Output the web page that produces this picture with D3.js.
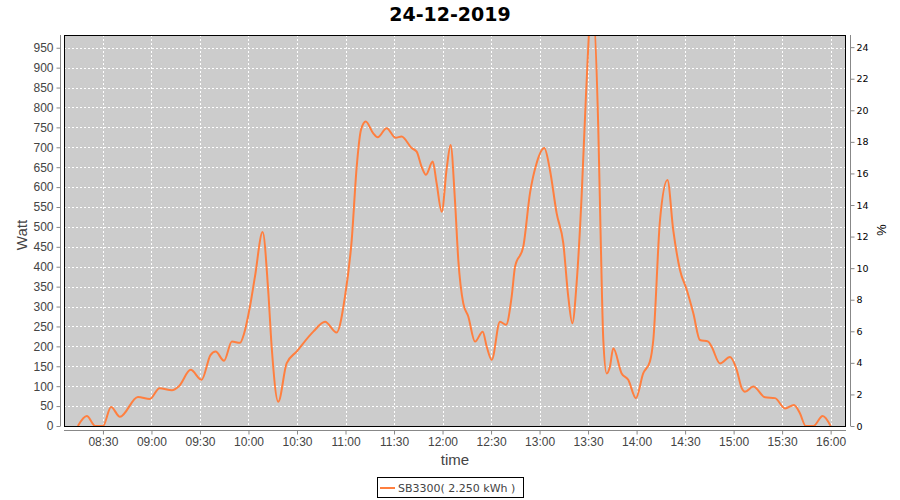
<!DOCTYPE html>
<html>
<head>
<meta charset="utf-8">
<script src="https://cdn.jsdelivr.net/npm/d3@7"></script>
<style>
  body { margin: 0; background: #ffffff; }
  svg { display: block; }
</style>
</head>
<body>
<svg id="chart" width="900" height="500"></svg>
<script>
// ---- data ----
const chartTitle = "24-12-2019";
const seriesName = "SB3300( 2.250 kWh )";
const times = [
  "08:14:30","08:20:00","08:25:15","08:30:00","08:35:00","08:40:30","08:51:40","08:59:00",
  "09:05:00","09:12:40","09:17:00","09:24:15","09:31:00","09:36:30","09:39:40","09:44:50",
  "09:49:45","09:54:45","09:57:20","10:00:55","10:04:00","10:08:45","10:12:10","10:14:20",
  "10:18:25","10:23:35","10:29:45","10:40:05","10:47:20","10:54:30","10:59:40","11:03:50",
  "11:06:55","11:09:35","11:12:30","11:17:10","11:19:55","11:25:25","11:31:00","11:34:40",
  "11:40:55","11:44:00","11:47:05","11:49:45","11:53:55","11:56:20","11:59:30","12:02:35",
  "12:05:00","12:07:40","12:09:45","12:12:50","12:15:55","12:20:05","12:24:50","12:27:20",
  "12:30:25","12:35:30","12:39:15","12:42:45","12:44:50","12:49:55","12:54:05","12:58:10",
  "13:02:55","13:06:25","13:10:35","13:14:40","13:17:45","13:20:15","13:22:55","13:26:00",
  "13:28:40","13:32:25","13:36:20","13:37:50","13:39:25","13:41:30","13:43:30","13:45:35",
  "13:50:45","13:54:50","13:59:35","14:04:05","14:08:15","14:10:20","14:14:30","14:19:05",
  "14:22:40","14:26:50","14:31:00","14:35:05","14:39:10","14:44:20","14:46:25","14:51:35",
  "14:57:45","15:01:55","15:05:00","15:07:00","15:12:10","15:19:25","15:25:35","15:31:50",
  "15:37:20","15:41:00","15:44:35","15:49:20","15:55:05","16:00:00"
];
const watts = [
  0,25,0,0,48,23,73,68,
  95,90,100,141,116,178,187,164,
  212,209,233,300,375,487,342,199,
  61,157,187,237,262,235,325,467,
  651,744,765,735,725,748,724,727,
  698,689,651,631,664,610,538,647,
  706,568,417,308,275,212,237,199,
  166,262,254,325,400,450,585,660,
  698,643,534,459,325,258,359,576,
  827,1070,744,467,216,132,149,195,
  132,116,70,132,162,216,518,618,
  492,392,342,283,216,212,199,157,
  173,141,95,86,99,72,70,44,
  53,32,0,0,25,0
];
const leftTicks = [0,50,100,150,200,250,300,350,400,450,500,550,600,650,700,750,800,850,900,950];
const rightTicks = [0,2,4,6,8,10,12,14,16,18,20,22,24];
const timeTicks = ["08:30","09:00","09:30","10:00","10:30","11:00","11:30","12:00","12:30","13:00","13:30","14:00","14:30","15:00","15:30","16:00"];
const timeStart = "08:05:55", timeEnd = "16:09:30";
const wattMax = 982, pctMax = 24.77;

// ---- setup ----
const day = "2019-12-24T";
const parseT = d3.timeParse("%Y-%m-%dT%H:%M:%S");
const parseTM = d3.timeParse("%Y-%m-%dT%H:%M");
const data = times.map((t, i) => ({ t: parseT(day + t), w: watts[i] }));

const L = 64, R = 846, T = 35, B = 426;
const svg = d3.select("#chart");
const x = d3.scaleTime().domain([parseT(day + timeStart), parseT(day + timeEnd)]).range([L, R]);
const y = d3.scaleLinear().domain([0, wattMax]).range([B, T]);
const y2 = d3.scaleLinear().domain([0, pctMax]).range([B, T]);

const tickFont = "'Liberation Sans', Arial, sans-serif";
const labelColor = "#444444";

// title
svg.append("text").attr("x", 450).attr("y", 21).attr("text-anchor", "middle")
  .attr("font-family", "'DejaVu Sans', sans-serif").attr("font-weight", "bold")
  .attr("font-size", 19).attr("fill", "#000").text(chartTitle);

// plot background
svg.append("rect").attr("x", L).attr("y", T).attr("width", R - L).attr("height", B - T)
  .attr("fill", "#cccccc");

// grid
const timeTickDates = timeTicks.map(s => parseTM(day + s));
svg.append("g").selectAll("line").data(timeTickDates).join("line")
  .attr("x1", d => Math.round(x(d)) + 0.5).attr("x2", d => Math.round(x(d)) + 0.5)
  .attr("y1", T).attr("y2", B)
  .attr("stroke", "#ffffff").attr("stroke-width", 1).attr("stroke-dasharray", "2,2");
svg.append("g").selectAll("line").data(leftTicks.filter(d => d > 0)).join("line")
  .attr("x1", L).attr("x2", R)
  .attr("y1", d => Math.round(y(d)) + 0.5).attr("y2", d => Math.round(y(d)) + 0.5)
  .attr("stroke", "#ffffff").attr("stroke-width", 1).attr("stroke-dasharray", "2,2");

// series line
svg.append("clipPath").attr("id", "clip").append("rect")
  .attr("x", L).attr("y", T).attr("width", R - L).attr("height", B - T);
const line = d3.line().x(d => x(d.t)).y(d => y(d.w)).curve(d3.curveMonotoneX);
svg.append("path").datum(data).attr("clip-path", "url(#clip)")
  .attr("d", line).attr("fill", "none").attr("stroke", "#ff7f3f").attr("stroke-width", 2);

// plot border
svg.append("rect").attr("x", L + 0.5).attr("y", T + 0.5).attr("width", R - L - 1).attr("height", B - T)
  .attr("fill", "none").attr("stroke", "#000").attr("stroke-width", 1);

// left axis
const gL = svg.append("g").attr("transform", `translate(60.5,0)`)
  .call(d3.axisLeft(y).tickValues(leftTicks).tickSize(4).tickPadding(3).tickSizeOuter(0));
gL.select(".domain").attr("stroke", "#888").attr("d", `M0,${T}V${B}`);
gL.selectAll(".tick line").attr("stroke", "#888");
gL.selectAll("text").attr("font-family", tickFont).attr("font-size", 12).attr("fill", labelColor);

// right axis
const gR = svg.append("g").attr("transform", `translate(850.5,0)`)
  .call(d3.axisRight(y2).tickValues(rightTicks).tickSize(4).tickPadding(2).tickSizeOuter(0));
gR.select(".domain").attr("stroke", "#888").attr("d", `M0,${T}V${B}`);
gR.selectAll(".tick line").attr("stroke", "#888");
gR.selectAll("text").attr("font-family", "'DejaVu Sans', sans-serif").attr("font-size", 9.5).attr("fill", "#000");

// bottom axis
const gB = svg.append("g").attr("transform", `translate(0,430.5)`)
  .call(d3.axisBottom(x).tickValues(timeTickDates).tickFormat(d3.timeFormat("%H:%M"))
    .tickSize(4).tickPadding(3).tickSizeOuter(0));
gB.select(".domain").attr("stroke", "#888").attr("d", `M${L},0H${R}`);
gB.selectAll(".tick line").attr("stroke", "#888");
gB.selectAll("text").attr("font-family", tickFont).attr("font-size", 12).attr("fill", labelColor);

// axis labels
svg.append("text").attr("transform", "translate(27,235) rotate(-90)").attr("text-anchor", "middle")
  .attr("font-family", tickFont).attr("font-size", 15).attr("fill", labelColor).text("Watt");
svg.append("text").attr("x", 455).attr("y", 465).attr("text-anchor", "middle")
  .attr("font-family", tickFont).attr("font-size", 15).attr("fill", labelColor).text("time");
svg.append("text").attr("transform", "translate(877,230) rotate(90)").attr("text-anchor", "middle")
  .attr("font-family", tickFont).attr("font-size", 13).attr("fill", "#000").text("%");

// legend
const lg = svg.append("g");
lg.append("rect").attr("x", 377.5).attr("y", 477.5).attr("width", 146).attr("height", 20)
  .attr("fill", "#fff").attr("stroke", "#000").attr("stroke-width", 1);
lg.append("line").attr("x1", 380).attr("x2", 395).attr("y1", 488).attr("y2", 488)
  .attr("stroke", "#ff7f3f").attr("stroke-width", 2);
lg.append("text").attr("x", 398).attr("y", 492).attr("font-family", "'DejaVu Sans', sans-serif")
  .attr("font-size", 11).attr("fill", labelColor).text(seriesName);
</script>
</body>
</html>
